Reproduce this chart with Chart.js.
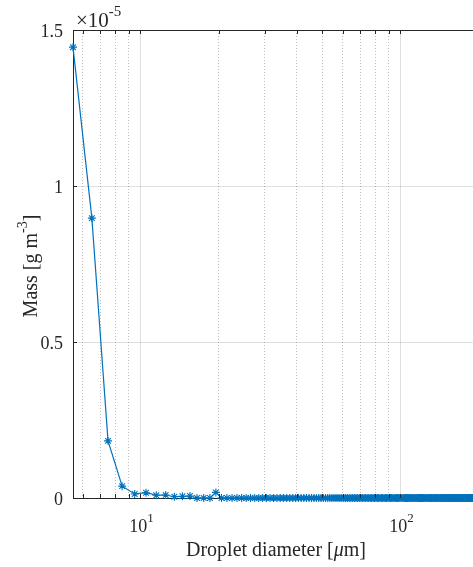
<!DOCTYPE html>
<html><head><meta charset="utf-8">
<script src="https://cdn.jsdelivr.net/npm/chart.js@4/dist/chart.umd.min.js"></script>
<style>html,body{margin:0;padding:0;background:#fff;overflow:hidden}#wrap{width:473px;height:567px;position:relative;overflow:hidden}</style>
</head><body><div id="wrap"><canvas id="c" width="478" height="567"></canvas></div>
<script>
// Droplet diameter bins [µm]
const diameters = [
  5.5,6.5,7.5,8.5,9.5,10.5,11.5,12.5,13.5,14.5,
  15.5,16.5,17.5,18.5,19.5,20.5,21.5,22.5,23.5,24.5,
  25.5,26.5,27.5,28.5,29.5,30.5,31.5,32.5,33.5,34.5,
  35.5,36.5,37.5,38.5,39.5,40.5,41.5,42.5,43.5,44.5,
  45.5,46.5,47.5,48.5,49.5,50.5,51.5,52.5,53.5,54.5,
  55.5,56.5,57.5,58.5,59.5,60.5,61.5,62.5,63.5,64.5,
  65.5,66.5,67.5,68.5,69.5,70.5,71.5,72.5,73.5,74.5,
  75.5,76.5,77.5,78.5,79.5,80.5,81.5,82.5,83.5,84.5,
  85.5,86.5,87.5,88.5,89.5,90.5,91.5,92.5,93.5,94.5,
  95.5,96.5,97.5,98.5,99.5,100.5,101.5,102.5,103.5,104.5,
  105.5,106.5,107.5,108.5,109.5,110.5,111.5,112.5,113.5,114.5,
  115.5,116.5,117.5,118.5,119.5,120.5,121.5,122.5,123.5,124.5,
  125.5,126.5,127.5,128.5,129.5,130.5,131.5,132.5,133.5,134.5,
  135.5,136.5,137.5,138.5,139.5,140.5,141.5,142.5,143.5,144.5,
  145.5,146.5,147.5,148.5,149.5,150.5,151.5,152.5,153.5,154.5,
  155.5,156.5,157.5,158.5,159.5,160.5,161.5,162.5,163.5,164.5,
  165.5,166.5,167.5,168.5,169.5,170.5,171.5,172.5,173.5,174.5,
  175.5,176.5,177.5,178.5,179.5,180.5,181.5,182.5,183.5,184.5,
  185.5,186.5,187.5,188.5,189.5,190.5,191.5,192.5,193.5,194.5,
  195.5,196.5,197.5,198.5,199.5
];
// Mass [g m^-3] in units of 1e-5
const mass = [
  1.445,0.897,0.183,0.038,0.013,0.017,0.009,0.0096,0.004,0.0055,
  0.0064,0,0,0,0.018,0,0,0,0,0,
  0,0,0,0,0,0,0,0,0,0,
  0,0,0,0,0,0,0,0,0,0,
  0,0,0,0,0,0,0,0,0,0,
  0,0,0,0,0,0,0,0,0,0,
  0,0,0,0,0,0,0,0,0,0,
  0,0,0,0,0,0,0,0,0,0,
  0,0,0,0,0,0,0,0,0,0,
  0,0,0,0,0,0,0,0,0,0,
  0,0,0,0,0,0,0,0,0,0,
  0,0,0,0,0,0,0,0,0,0,
  0,0,0,0,0,0,0,0,0,0,
  0,0,0,0,0,0,0,0,0,0,
  0,0,0,0,0,0,0,0,0,0,
  0,0,0,0,0,0,0,0,0,0,
  0,0,0,0,0,0,0,0,0,0,
  0,0,0,0,0,0,0,0,0,0,
  0,0,0,0,0,0,0,0,0,0,
  0,0,0,0,0
];
const yTicks = [0, 0.5, 1, 1.5];
const yTickLabels = ['0', '0.5', '1', '1.5'];
const xGridValues = [6,7,8,9,10,20,30,40,50,60,70,80,90,100];
const xMajorValues = [10, 100];
const xMajorExponents = ['1', '2'];
const yExponent = '-5';

const FONT = '"Liberation Serif", "Times New Roman", serif';
const AXIS = '#262626';
const isMajor = v => xMajorValues.includes(v);

function rich(ctx, parts, x, y, align) {
  let w = 0;
  parts.forEach(p => { ctx.font = (p.italic ? 'italic ' : '') + p.size + 'px ' + FONT; p.w = ctx.measureText(p.t).width; w += p.w; });
  let cx = align === 'center' ? x - w / 2 : align === 'right' ? x - w : x;
  ctx.textAlign = 'left';
  parts.forEach(p => { ctx.font = (p.italic ? 'italic ' : '') + p.size + 'px ' + FONT; ctx.fillText(p.t, cx, y + (p.dy || 0)); cx += p.w; });
}

const decor = {
  id: 'decor',
  afterDraw(chart) {
    const {ctx, chartArea: a, scales: {x, y}} = chart;
    ctx.save();
    ctx.strokeStyle = AXIS; ctx.lineWidth = 1;
    ctx.beginPath();
    ctx.moveTo(a.left, a.top + 0.5); ctx.lineTo(a.right + 10, a.top + 0.5);
    ctx.stroke();
    // inward ticks
    ctx.beginPath();
    xGridValues.forEach(v => {
      const px = Math.round(x.getPixelForValue(v)) + 0.5;
      const L = 4;
      ctx.moveTo(px, a.bottom); ctx.lineTo(px, a.bottom - L);
      ctx.moveTo(px, a.top); ctx.lineTo(px, a.top + L);
    });
    yTicks.forEach(v => {
      const py = Math.round(y.getPixelForValue(v)) + 0.5;
      ctx.moveTo(a.left, py); ctx.lineTo(a.left + 4, py);
    });
    ctx.stroke();
    ctx.fillStyle = AXIS;
    ctx.textBaseline = 'alphabetic';
    // y tick labels
    yTicks.forEach((v, i) => {
      const py = y.getPixelForValue(v);
      rich(ctx, [{t: yTickLabels[i], size: 18}], a.left - 10, py + 7, 'right');
    });
    // x tick labels
    xMajorValues.forEach((v, i) => {
      const px = x.getPixelForValue(v);
      rich(ctx, [{t: '10', size: 18}, {t: xMajorExponents[i], size: 13, dy: -10}], px + 1, a.bottom + 34, 'center');
    });
    // exponent label
    rich(ctx, [{t: '\u00d710', size: 21}, {t: yExponent, size: 15, dy: -11}], a.left + 3, a.top - 3, 'left');
    // x title
    rich(ctx, [{t: 'Droplet diameter [', size: 20}, {t: '\u03bc', size: 20, italic: true}, {t: 'm]', size: 20}], 276, 556, 'center');
    // y title
    ctx.translate(37, (a.top + a.bottom) / 2 + 2);
    ctx.rotate(-Math.PI / 2);
    rich(ctx, [{t: 'Mass [g m', size: 20}, {t: '-3', size: 14, dy: -10}, {t: ']', size: 20}], 0, 0, 'center');
    ctx.restore();
  }
};

new Chart(document.getElementById('c'), {
  type: 'line',
  data: {
    datasets: [{
      data: diameters.map((d, i) => ({x: d, y: mass[i]})),
      borderColor: '#0072BD',
      backgroundColor: '#0072BD',
      borderWidth: 1.2,
      pointStyle: 'star',
      pointRadius: 4,
      pointBorderWidth: 1.1,
      pointBorderColor: '#0072BD',
      tension: 0,
      clip: false
    }]
  },
  options: {
    responsive: false,
    animation: false,
    devicePixelRatio: 1,
    layout: {padding: {left: 73, top: 30, right: 0, bottom: 69}},
    plugins: {legend: {display: false}, tooltip: {enabled: false}},
    scales: {
      x: {
        type: 'logarithmic', min: 5.5, max: 190,
        afterBuildTicks: s => { s.ticks = xGridValues.map(v => ({value: v})); },
        ticks: {display: false},
        grid: {drawTicks: false, tickLength: 0, lineWidth: 1,
          color: c => (c.tick && isMajor(c.tick.value)) ? 'rgba(38,38,38,0.15)' : 'rgba(38,38,38,0.3)'},
        border: {display: true, color: AXIS, width: 1,
          dash: c => (c.tick && isMajor(c.tick.value)) ? [] : [1, 2]}
      },
      y: {
        min: 0, max: 1.5,
        afterBuildTicks: s => { s.ticks = yTicks.map(v => ({value: v})); },
        ticks: {display: false},
        grid: {drawTicks: false, tickLength: 0, lineWidth: 1, color: 'rgba(38,38,38,0.15)'},
        border: {display: true, color: AXIS, width: 1}
      }
    }
  },
  plugins: [decor]
});
</script></body></html>
